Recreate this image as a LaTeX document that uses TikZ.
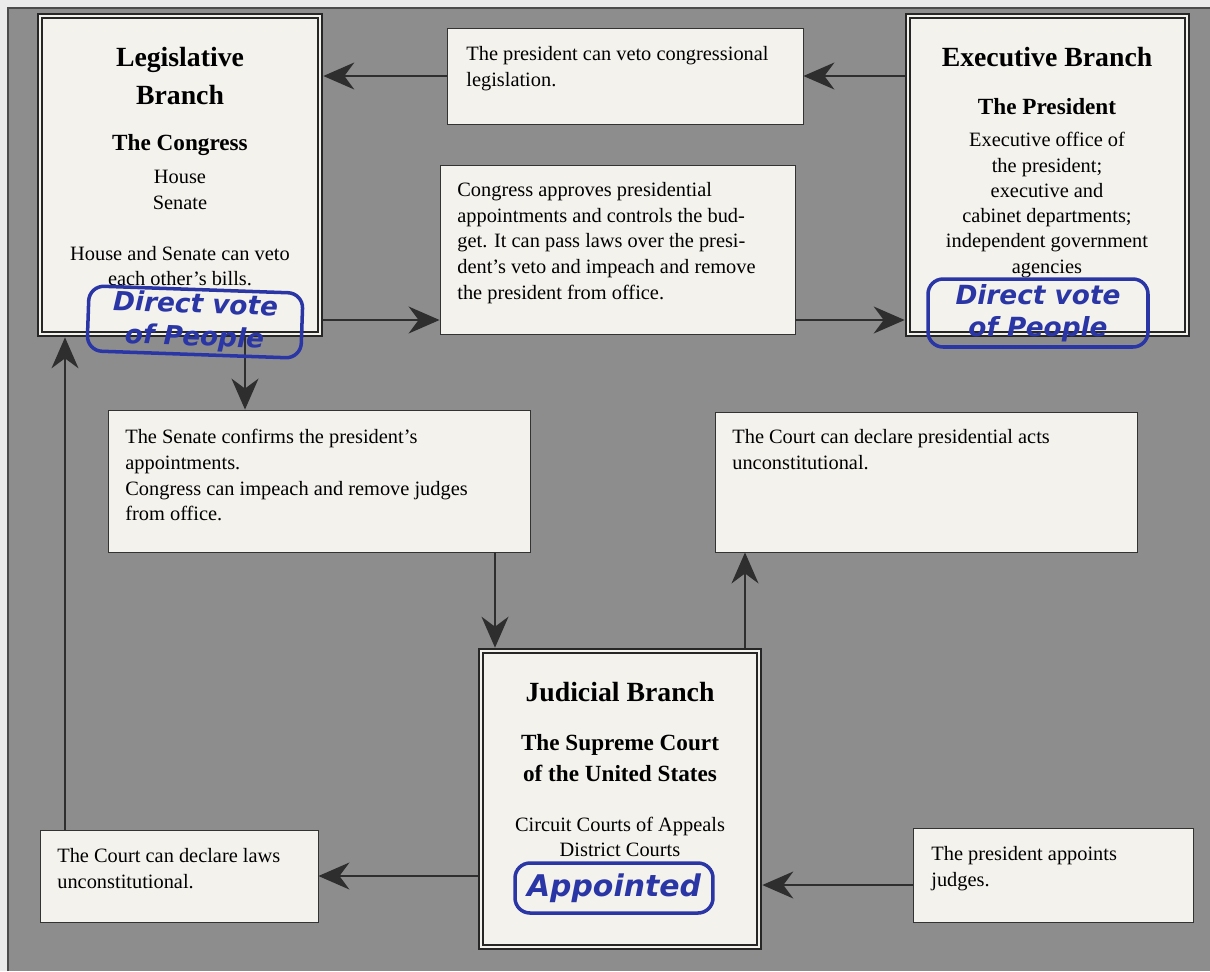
\documentclass[tikz,border=0pt]{standalone}
\usepackage{fontspec}
\setmainfont{Liberation Serif}
\newfontfamily\inkfont{DejaVu Sans}
\usetikzlibrary{arrows.meta,fit}

\definecolor{panelgray}{HTML}{8D8D8D}
\definecolor{paper}{HTML}{F4F2EC}
\definecolor{ink}{HTML}{2B36A6}
\definecolor{arrowgray}{HTML}{2E2E2E}

\tikzset{
  infobox/.style={draw=black!80, fill=paper, line width=0.5pt, inner sep=0pt},
  branchbox/.style={draw=black!85, fill=paper, line width=1.1pt, double=paper, double distance=1.6pt, inner sep=0pt, outer sep=1.9pt},
  infotext/.style={anchor=north west, align=left, inner sep=0pt, font=\fontsize{11.6}{14.6}\selectfont},
  head/.style={align=center, inner sep=0pt, font=\fontsize{15.8}{22}\selectfont\bfseries},
  subhead/.style={align=center, inner sep=0pt, font=\fontsize{13.2}{17.6}\selectfont\bfseries},
  branchtext/.style={align=center, inner sep=0pt, font=\fontsize{11.6}{14.4}\selectfont},
  link/.style={draw=arrowgray, line width=0.9pt, -{Stealth[length=0.62cm, width=0.54cm, inset=0.2cm]}},
  note/.style={draw=ink, text=ink, line width=2pt, rounded corners=0.3cm, align=center, inner sep=0pt, font=\inkfont\bfseries\itshape\fontsize{15}{18.5}\selectfont},
}

\begin{document}
\begin{tikzpicture}[x=0.02cm, y=-0.02cm]
\useasboundingbox (0,0) rectangle (1210,971);

\fill[black!8] (0,0) rectangle (1210,971);
\fill[panelgray] (8,8) rectangle (1210,971);
\draw[black!70, line width=0.6pt] (8,971) -- (8,8) -- (1210,8);

% the three branches
\node[branchbox, fit={(40,16) (320,334)}] (leg) {};
\node[branchbox, fit={(908,16) (1187,334)}] (exec) {};
\node[branchbox, fit={(481,651) (759,947)}] (jud) {};

% checks and balances
\node[infobox, fit={(447,28) (803,124)}] (veto) {};
\node[infobox, fit={(440,165) (795,334)}] (approve) {};
\node[infobox, fit={(108,410) (530,552)}] (confirm) {};
\node[infobox, fit={(715,412) (1137,552)}] (acts) {};
\node[infobox, fit={(40,830) (318,922)}] (laws) {};
\node[infobox, fit={(913,828) (1193,922)}] (appoint) {};

\node[head] (legtitle) at (180,76) {Legislative\\Branch};
\node[subhead] (legsub) at (180,145) {The Congress};
\node[branchtext] (legparts) at (180,190) {House\\Senate};
\node[branchtext] (legveto) at (180,266) {House and Senate can veto\\each other’s bills.};

\node[head] (exectitle) at (1047,57) {Executive Branch};
\node[subhead] (execsub) at (1047,107) {The President};
\node[branchtext] (execparts) at (1047,205) {Executive office of\\the president;\\executive and\\cabinet departments;\\independent government\\agencies};

\node[head] (judtitle) at (620,692) {Judicial Branch};
\node[subhead] (judsub) at (620,758) {The Supreme Court\\of the United States};
\node[branchtext] (judparts) at (620,837) {Circuit Courts of Appeals\\District Courts};

\node[infotext] (vetotext) at (466,46) {The president can veto congressional\\legislation.};
\node[infotext] (approvetext) at (457,182) {Congress approves presidential\\appointments and controls the bud-\\get. It can pass laws over the presi-\\dent’s veto and impeach and remove\\the president from office.};
\node[infotext] (confirmtext) at (125,429) {The Senate confirms the president’s\\appointments.\\Congress can impeach and remove judges\\from office.};
\node[infotext] (actstext) at (732,429) {The Court can declare presidential acts\\unconstitutional.};
\node[infotext] (lawstext) at (57,848) {The Court can declare laws\\unconstitutional.};
\node[infotext] (appointtext) at (931,846) {The president appoints\\judges.};

% arrows
\coordinate (row1) at (0,320);
\coordinate (row2) at (0,885);
\coordinate (col1) at (245,0);
\coordinate (col2) at (495,0);
\coordinate (col3) at (745,0);
\coordinate (col4) at (65,0);

\draw[link] (veto.east -| exec.west) -- (veto.east);
\draw[link] (veto.west) -- (veto.west -| leg.east);
\draw[link] (row1 -| leg.east) -- (row1 -| approve.west);
\draw[link] (row1 -| approve.east) -- (row1 -| exec.west);
\draw[link] (col1 |- leg.south) -- (col1 |- confirm.north);
\draw[link] (col2 |- confirm.south) -- (col2 |- jud.north);
\draw[link] (col3 |- jud.north) -- (col3 |- acts.south);
\draw[link] (laws.east -| jud.west) -- (laws.east);
\draw[link] (col4 |- laws.north) -- (col4 |- leg.south);
\draw[link] (row2 -| appoint.west) -- (row2 -| jud.east);

% handwritten notes
\node[note, minimum width=4.28cm, minimum height=1.3cm, rotate=-2] (legnote) at (195,322) {Direct vote\\of People};
\node[note, minimum width=4.4cm, minimum height=1.36cm] (execnote) at (1038,313) {Direct vote\\of People};
\node[note, minimum width=3.96cm, minimum height=1.0cm, font=\inkfont\bfseries\itshape\fontsize{17}{18}\selectfont] (judnote) at (614,888) {Appointed};

\end{tikzpicture}
\end{document}
